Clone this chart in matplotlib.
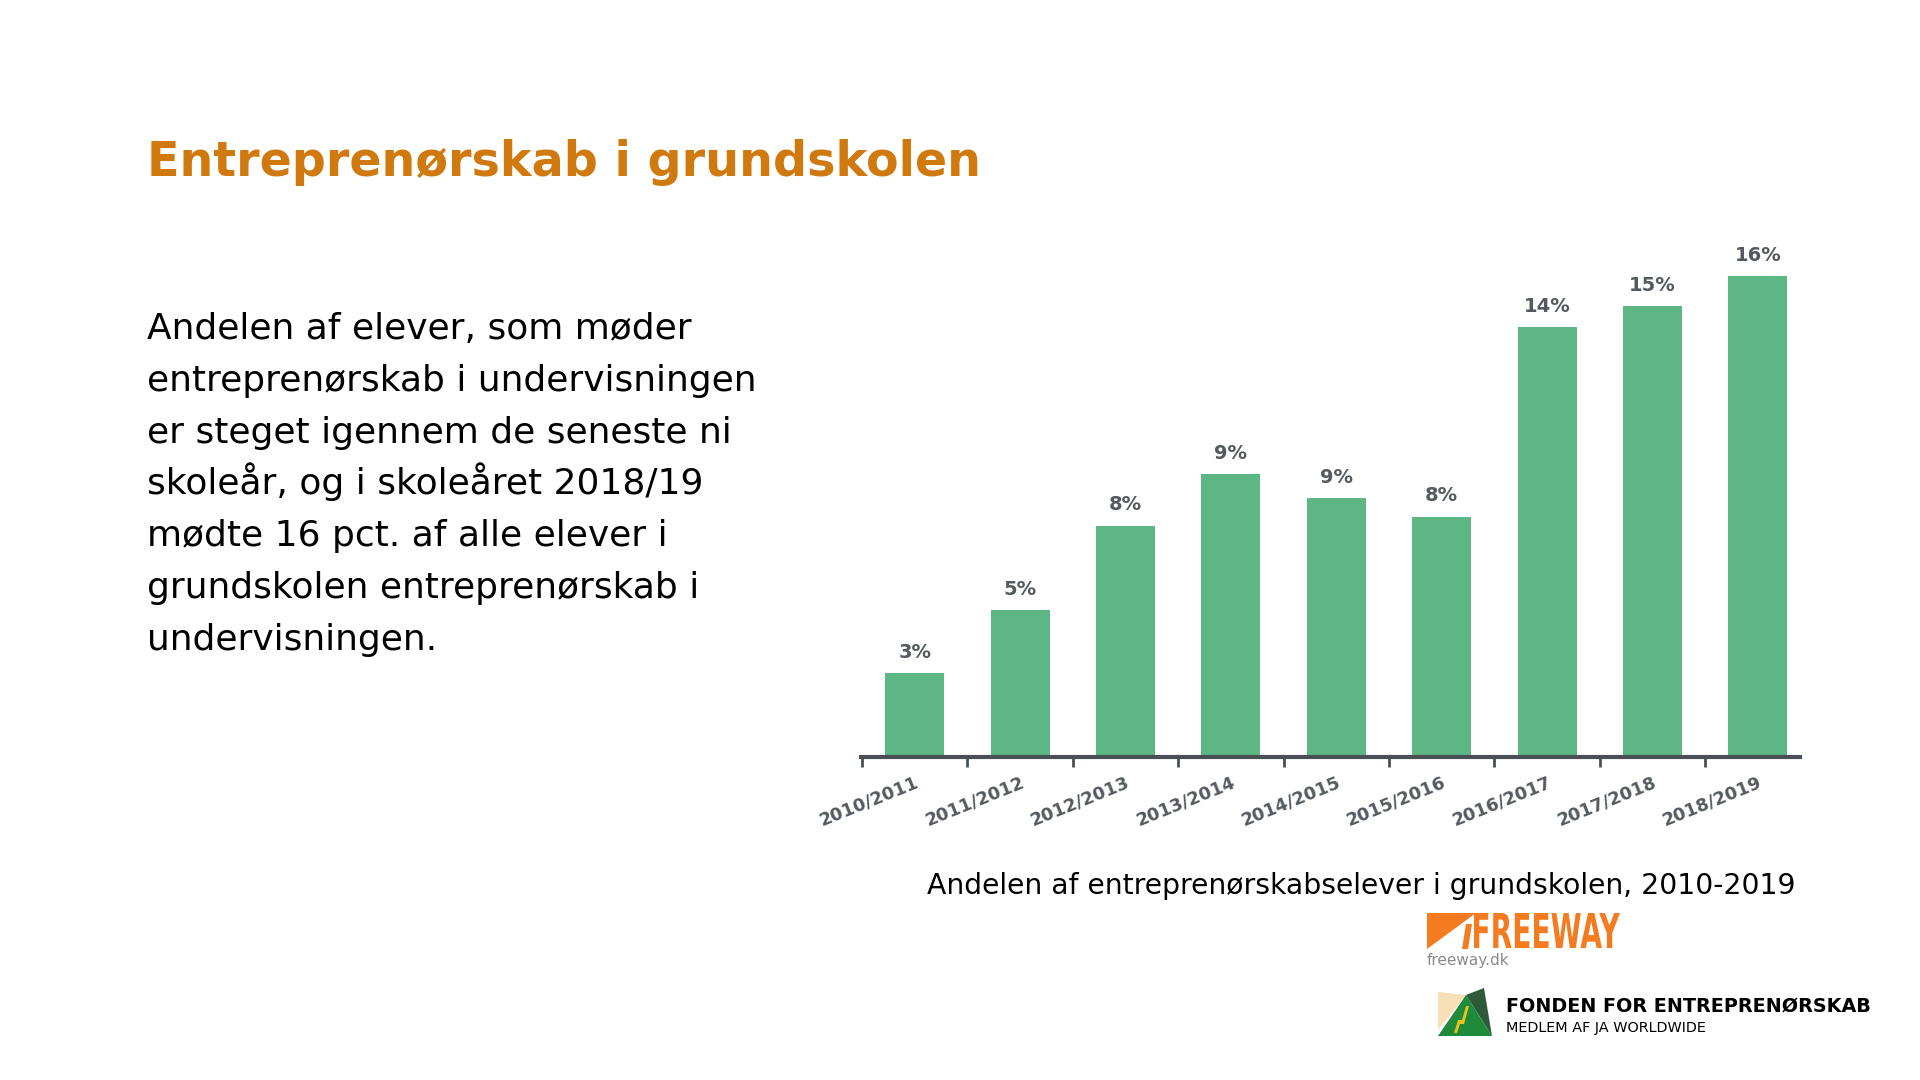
import numpy as np
from matplotlib import pyplot as plt
from matplotlib.patches import Polygon, PathPatch
from matplotlib.textpath import TextPath
from matplotlib.font_manager import FontProperties
from matplotlib.transforms import Affine2D

# data
years = ['2010/2011', '2011/2012', '2012/2013', '2013/2014', '2014/2015',
         '2015/2016', '2016/2017', '2017/2018', '2018/2019']
andel = [2.8, 4.9, 7.7, 9.4, 8.6, 8.0, 14.3, 15.0, 16.0]

title = 'Entreprenørskab i grundskolen'
tekst = ['Andelen af elever, som møder',
         'entreprenørskab i undervisningen',
         'er steget igennem de seneste ni',
         'skoleår, og i skoleåret 2018/19',
         'mødte 16 pct. af alle elever i',
         'grundskolen entreprenørskab i',
         'undervisningen.']
caption = 'Andelen af entreprenørskabselever i grundskolen, 2010-2019'

W, H = 1920, 1080
green = '#5db784'
grey = '#555a60'

fig = plt.figure(figsize=(19.2, 10.8), dpi=100)


def fx(x):
    return x / W


def fy(y):
    return 1 - y / H


# titel og tekst
fig.text(fx(147), fy(163), title, fontsize=34.3, fontweight='bold',
         color='#d0790f', va='center', ha='left', family='DejaVu Sans')
for i, linje in enumerate(tekst):
    fig.text(fx(147), fy(339 + 51.8 * i), linje, fontsize=25.9,
             color='black', va='baseline', ha='left', family='DejaVu Sans')

# søjlediagram
ax = fig.add_axes([fx(861), fy(757), fx(1800) - fx(861), (757 - 246) / H])
x = np.arange(len(years))
bars = ax.bar(x, andel, width=0.56, color=green, zorder=2)
ax.set_xlim(-0.51, 8.40)
ax.set_ylim(0, 17)

for b, v in zip(bars, andel):
    ax.annotate(f'{v:.0f}%', (b.get_x() + b.get_width() / 2, v),
                xytext=(0, 8), textcoords='offset points', ha='center',
                va='bottom', fontsize=14, fontweight='bold', color=grey)

for s in ['top', 'right', 'left']:
    ax.spines[s].set_visible(False)
ax.spines['bottom'].set_color('#4a4f55')
ax.spines['bottom'].set_linewidth(3)
ax.set_yticks([])
ax.set_xticks(x - 0.5)
ax.set_xticklabels([])
ax.tick_params(axis='x', which='major', length=7, width=2, color='#4a4f55')
ax.set_xticks(x, minor=True)
ax.set_xticklabels(years, minor=True, rotation=22, ha='right',
                   rotation_mode='anchor', fontsize=12.8, fontweight='bold',
                   color=grey)
ax.tick_params(axis='x', which='minor', length=0, pad=12)

fig.text(fx(927), fy(886), caption, fontsize=20.3, color='black',
         va='center', ha='left', family='DejaVu Sans')


# logoer
def smal_tekst(s, x0, y0, x1, y1, farve):
    # tekst presset ind i en boks (pixels, top-venstre origo)
    tp = TextPath((0, 0), s, size=100,
                  prop=FontProperties(family='DejaVu Sans', weight='bold'))
    e = tp.get_extents()
    t = Affine2D().translate(-e.x0, -e.y0).scale(
        (x1 - x0) / e.width, (y1 - y0) / e.height).translate(x0, H - y1)
    fig.patches.append(PathPatch(t.transform_path(tp), facecolor=farve,
                                 edgecolor='none', transform=None))


fig.patches.append(Polygon([(fx(1427), fy(913)), (fx(1476), fy(913)),
                            (fx(1427), fy(949))], closed=True,
                           facecolor='#f47b20', transform=fig.transFigure))
fig.patches.append(Polygon([(fx(1466), fy(924)), (fx(1472), fy(924)),
                            (fx(1468), fy(949)), (fx(1462), fy(949))],
                           closed=True, facecolor='#f47b20',
                           transform=fig.transFigure))
smal_tekst('FREEWAY', 1474, 913, 1620, 948, '#f47b20')
fig.text(fx(1427), fy(961), 'freeway.dk', fontsize=11, color='#8a8a8a',
         va='center', ha='left', family='DejaVu Sans')

fig.patches.append(Polygon([(fx(1438), fy(992)), (fx(1466), fy(995)),
                            (fx(1438), fy(1030))], closed=True,
                           facecolor='#f7dfb8', transform=fig.transFigure))
fig.patches.append(Polygon([(fx(1466), fy(995)), (fx(1484), fy(988)),
                            (fx(1492), fy(1036))], closed=True,
                           facecolor='#2f5a3a', transform=fig.transFigure))
fig.patches.append(Polygon([(fx(1438), fy(1036)), (fx(1466), fy(995)),
                            (fx(1492), fy(1036))], closed=True,
                           facecolor='#1f8a3a', transform=fig.transFigure))
fig.patches.append(Polygon([(fx(1454), fy(1033)), (fx(1458), fy(1020)),
                            (fx(1462), fy(1020)), (fx(1466), fy(1006)),
                            (fx(1469), fy(1006)), (fx(1464), fy(1024)),
                            (fx(1460), fy(1024)), (fx(1457), fy(1033))],
                           closed=True, facecolor='#e5c21f',
                           transform=fig.transFigure))
fig.text(fx(1506), fy(1006), 'FONDEN FOR ENTREPRENØRSKAB', fontsize=13.8,
         fontweight='bold', color='black', va='center', ha='left',
         family='DejaVu Sans')
fig.text(fx(1506), fy(1028), 'MEDLEM AF JA WORLDWIDE', fontsize=10.4,
         color='black', va='center', ha='left', family='DejaVu Sans')

plt.savefig('out.png', dpi=100, facecolor='white')
